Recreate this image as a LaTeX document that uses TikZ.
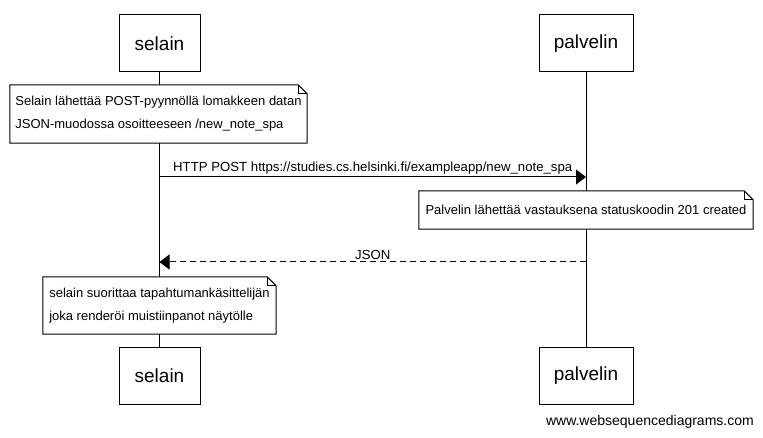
\documentclass[tikz,border=0pt]{standalone}
\usepackage{fontspec}
\setmainfont{Liberation Sans}
\usepackage{tikz}
\usetikzlibrary{arrows.meta}

\tikzset{
  actor/.style={draw,line width=1pt,fill=white,minimum height=57pt,inner sep=0pt,font=\fontsize{19}{23}\selectfont},
  note/.style={fill=white,align=left,inner sep=0pt,font=\fontsize{13}{23}\selectfont},
  msg/.style={line width=1pt,-{Triangle[length=10pt,width=15pt]}},
  msglabel/.style={font=\fontsize{13.2}{15}\selectfont,above,inner sep=2pt}
}
% outline of a note with folded corner
\newcommand{\notefold}[1]{%
  \draw[line width=1pt] (#1.south west) -- (#1.north west) -- ([xshift=-9pt]#1.north east)
    -- ([yshift=-9pt]#1.north east) -- (#1.south east) -- cycle;
  \draw[line width=1pt] ([xshift=-9pt]#1.north east) |- ([yshift=-9pt]#1.north east);
}

\begin{document}
\begin{tikzpicture}[x=1pt,y=-1pt]
\useasboundingbox (0,0) rectangle (763,438);
% actors
\node[actor,minimum width=81pt] (selainTop) at (159.5,43.5) {selain};
\node[actor,minimum width=94pt] (palvelinTop) at (586,43.5) {palvelin};
\node[actor,minimum width=81pt] (selainBot) at (159.5,375.5) {selain};
\node[actor,minimum width=94pt] (palvelinBot) at (586,375.5) {palvelin};
% lifelines
\draw[line width=1pt] (selainTop) -- (selainBot);
\draw[line width=1pt] (palvelinTop) -- (palvelinBot);
% notes
\node[note,minimum width=297pt,minimum height=58pt] (noteSend) at (158.5,114)
  {Selain lähettää POST-pyynnöllä lomakkeen datan\\JSON-muodossa osoitteeseen /new\_note\_spa};
\notefold{noteSend}
\node[note,minimum width=334pt,minimum height=38pt] (noteStatus) at (586,210)
  {Palvelin lähettää vastauksena statuskoodin 201 created};
\notefold{noteStatus}
\node[note,minimum width=233pt,minimum height=57pt] (noteRender) at (159.5,305.5)
  {selain suorittaa tapahtumankäsittelijän\\joka renderöi muistiinpanot näytölle};
\notefold{noteRender}
% messages
\coordinate (postFrom) at (159.5,177);
\coordinate (postTo) at (586,177);
\coordinate (jsonFrom) at (586,262);
\coordinate (jsonTo) at (159.5,262);
\draw[msg] (postFrom) -- node[msglabel] {HTTP POST https://studies.cs.helsinki.fi/exampleapp/new\_note\_spa} (postTo);
\draw[msg,dash pattern=on 6pt off 4pt] (jsonFrom) -- node[msglabel] {JSON} (jsonTo);
% footer
\node[anchor=base east,font=\fontsize{14}{16}\selectfont,inner sep=0pt] (footer) at (754,425) {www.websequencediagrams.com};
\end{tikzpicture}
\end{document}
